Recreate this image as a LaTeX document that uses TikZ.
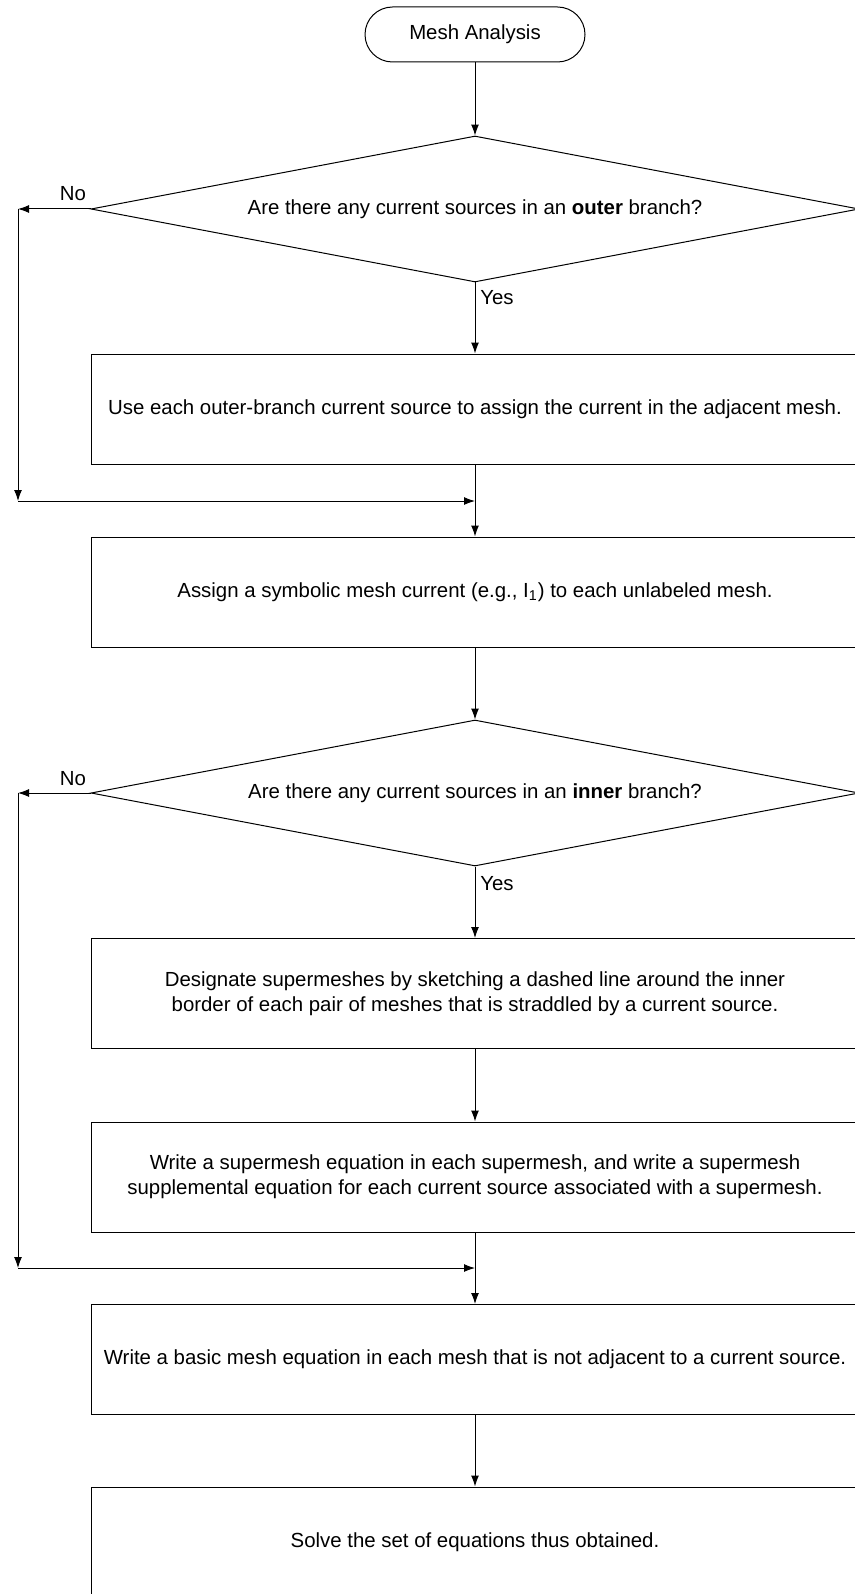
\documentclass[tikz,border=0pt]{standalone}
\usepackage{fontspec}
\setmainfont{Liberation Sans}
\usepackage{tikz}
\usetikzlibrary{shapes.geometric,arrows.meta}

\begin{document}
\begin{tikzpicture}[x=0.5pt, y=-0.5pt, font=\fontsize{10.2}{12.5}\selectfont, line width=0.5pt,
                >={Latex[length=5.5pt,width=4pt]},
                stepbox/.style={draw, rectangle, minimum width=384pt, minimum height=55pt, inner sep=0pt, align=center},
                question/.style={draw, diamond, shape aspect=5.26, minimum width=384pt, minimum height=73pt, inner sep=0pt},
                terminal/.style={draw, rectangle, rounded corners=13.75pt, minimum width=110pt, minimum height=27.5pt}]
                \useasboundingbox (0, 0) rectangle (855, 1594);
                \node[terminal] (start) at (475, 34.5) {Mesh Analysis};
                \node[question] (outerq) at (475, 209) {Are there any current sources in an \textbf{outer} branch?};
                \node[stepbox] (assignouter) at (475, 409) {Use each outer-branch current source to assign the current in the adjacent mesh.};
                \node[stepbox] (assignmesh) at (475, 592) {Assign a symbolic mesh current (e.g., I\textsubscript{1}) to each unlabeled mesh.};
                \node[question] (innerq) at (475, 793) {Are there any current sources in an \textbf{inner} branch?};
                \node[stepbox] (supermesh) at (475, 993.5) {Designate supermeshes by sketching a dashed line around the inner\\border of each pair of meshes that is straddled by a current source.};
                \node[stepbox] (supereq) at (475, 1177) {Write a supermesh equation in each supermesh, and write a supermesh\\supplemental equation for each current source associated with a supermesh.};
                \node[stepbox] (basiceq) at (475, 1359.5) {Write a basic mesh equation in each mesh that is not adjacent to a current source.};
                \node[stepbox] (solve) at (475, 1542) {Solve the set of equations thus obtained.};
                \node (outernolabel) at (73, 194) {No};
                \node (outeryes) at (497, 298) {Yes};
                \node (innernolabel) at (73, 779) {No};
                \node (inneryes) at (497, 884) {Yes};
                \coordinate (outerno) at (18, 209);
                \coordinate (outercorner) at (18, 501);
                \coordinate (outerjoin) at (475, 501);
                \coordinate (innerno) at (18, 793);
                \coordinate (innercorner) at (18, 1268);
                \coordinate (innerjoin) at (475, 1268);
                \draw[->] (start) -- (outerq);
                \draw[->] (outerq.west) -- (outerno);
                \draw[->] (outerno) -- (outercorner);
                \draw[->] (outercorner) -- (outerjoin);
                \draw[->] (outerq) -- (assignouter);
                \draw (assignouter) -- (outerjoin);
                \draw[->] (outerjoin) -- (assignmesh);
                \draw[->] (assignmesh) -- (innerq);
                \draw[->] (innerq.west) -- (innerno);
                \draw[->] (innerno) -- (innercorner);
                \draw[->] (innercorner) -- (innerjoin);
                \draw[->] (innerq) -- (supermesh);
                \draw[->] (supermesh) -- (supereq);
                \draw (supereq) -- (innerjoin);
                \draw[->] (innerjoin) -- (basiceq);
                \draw[->] (basiceq) -- (solve);
            \end{tikzpicture}
\end{document}
